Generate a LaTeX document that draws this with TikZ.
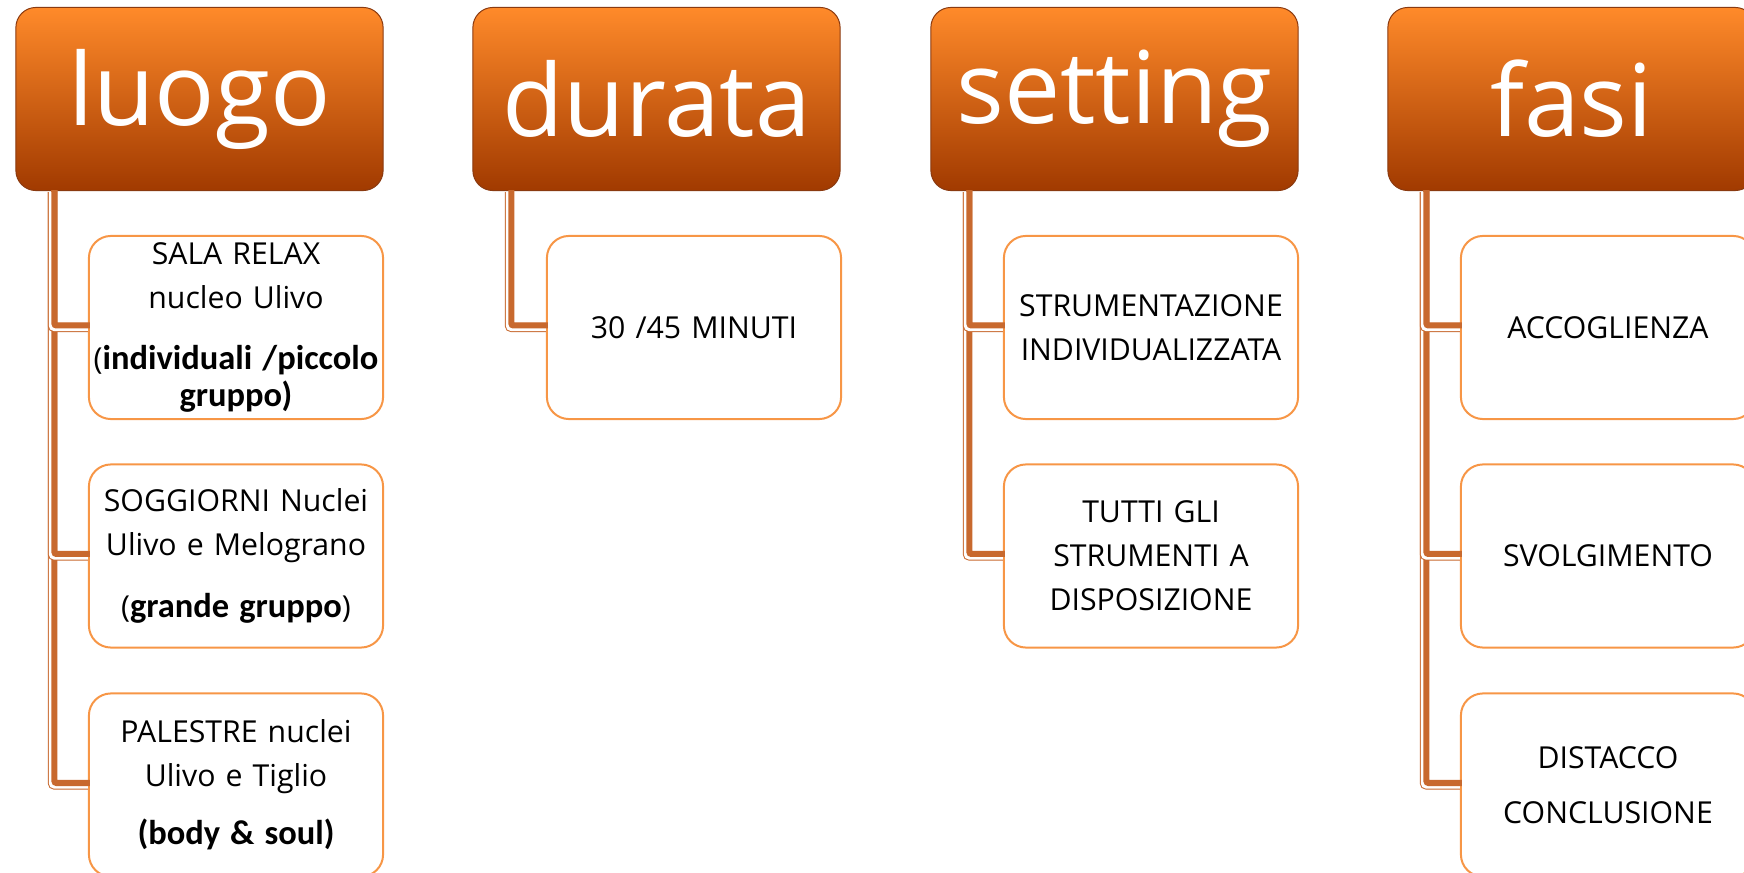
\documentclass[tikz,border=0pt]{standalone}
\usepackage{fontspec}
\setmainfont{Open Sans}
\newfontfamily\calib{Carlito}
\definecolor{hdtop}{HTML}{FF8A2A}
\definecolor{hdmid}{HTML}{E65F00}
\definecolor{hdbot}{HTML}{A13A00}
\definecolor{hdline}{HTML}{8A3A10}
\definecolor{boxline}{HTML}{F79646}
\definecolor{linkc}{HTML}{C8692E}
\usetikzlibrary{positioning, calc}
\newcommand{\bld}[1]{{\calib\bfseries\fontsize{9.8}{10.5}\selectfont #1}}

\begin{document}
\begin{tikzpicture}[x=0.01cm, y=-0.01cm,
    head/.style={rounded corners=0.2cm, minimum width=3.67cm, minimum height=1.83cm,
                 draw=hdline, line width=0.01cm, top color=hdtop, middle color=hdmid,
                 bottom color=hdbot, text=white, font=\fontsize{28.5}{30}\selectfont, inner sep=0pt},
    item/.style={rounded corners=0.22cm, minimum width=2.94cm, minimum height=1.83cm,
                 text width=2.9cm, draw=boxline, line width=0.02cm, fill=white,
                 align=center, font=\fontsize{8.6}{12.5}\selectfont, inner sep=0pt},
    link/.style={draw=linkc, line width=0.09cm, rounded corners=0.02cm,
                 postaction={draw=white, line width=0.07cm},
                 postaction={draw=linkc, line width=0.06cm,
                             transform canvas={xshift=0.02cm, yshift=0.02cm}}}
  ]
    \useasboundingbox (0,0) rectangle (1744,873);

    \node[head] (luogo) at (199.5,99) {luogo};
    \node[head] (durata) at (656.5,99) {durata};
    \node[head] (setting) at (1114.5,99) {setting};
    \node[head] (fasi) at (1571.5,99) {fasi};

    \node[item] (sala) at (236,327.5) {SALA RELAX\\ nucleo Ulivo\\[5pt]
      (\bld{individuali /piccolo}\\[-2pt] \bld{gruppo)}};
    \node[item] (soggiorni) at (236,556) {SOGGIORNI Nuclei\\ Ulivo e Melograno\\[5pt]
      (\bld{grande gruppo})};
    \node[item] (palestre) at (236,785) {PALESTRE nuclei\\ Ulivo e Tiglio\\[4pt]
      \bld{(body \& soul)}};

    \node[item] (minuti) at (694,327.5) {30 /45 MINUTI};

    \node[item] (strum) at (1151,327.5) {STRUMENTAZIONE\\ INDIVIDUALIZZATA};
    \node[item] (tutti) at (1151,556) {TUTTI GLI\\ STRUMENTI A\\ DISPOSIZIONE};

    \node[item] (accoglienza) at (1608,327.5) {ACCOGLIENZA};
    \node[item] (svolgimento) at (1608,556) {SVOLGIMENTO};
    \node[item, font=\fontsize{8.6}{15.5}\selectfont] (distacco) at (1608,785) {DISTACCO\\ CONCLUSIONE};

    \draw[link] ($(luogo.south west)+(37,1)$) |- (palestre.west);
    \draw[link] ($(luogo.south west)+(37,1)$) |- (soggiorni.west);
    \draw[link] ($(luogo.south west)+(37,1)$) |- (sala.west);
    \draw[link] ($(durata.south west)+(37,1)$) |- (minuti.west);
    \draw[link] ($(setting.south west)+(37,1)$) |- (tutti.west);
    \draw[link] ($(setting.south west)+(37,1)$) |- (strum.west);
    \draw[link] ($(fasi.south west)+(37,1)$) |- (distacco.west);
    \draw[link] ($(fasi.south west)+(37,1)$) |- (svolgimento.west);
    \draw[link] ($(fasi.south west)+(37,1)$) |- (accoglienza.west);
  \end{tikzpicture}
\end{document}
